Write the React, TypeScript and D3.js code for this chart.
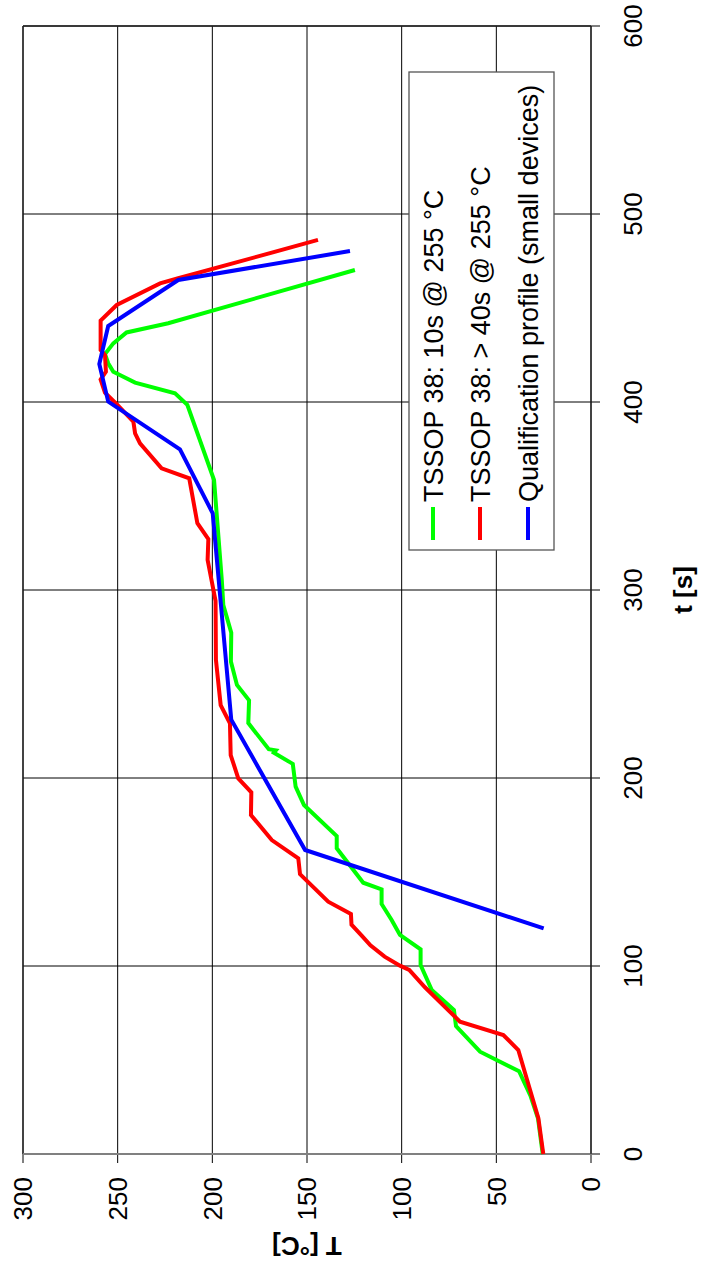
import React from "react";
import * as d3 from "d3";

const tTicks = [0, 100, 200, 300, 400, 500, 600];
const tempTicks = [0, 50, 100, 150, 200, 250, 300];

const seriesNames = [
  "TSSOP 38: 10s @ 255 °C",
  "TSSOP 38: > 40s @ 255 °C",
  "Qualification profile (small devices)",
];
const seriesColors = ["#00ff00", "#ff0000", "#0000ff"];

const greenTime = [0, 19, 31, 44, 54.4, 68, 76.6, 87.2, 100.5, 108.9, 116.5, 124.5, 133, 140.8, 144.3, 162.6, 169.1, 185.6, 195.4, 207.5, 213.5, 214.7, 215.3, 229.2, 241.3, 249.5, 262, 277.3, 292, 305.3, 358.5, 398.5, 404.6, 410.3, 416.1, 420.6, 425.5, 431.2, 437, 441.9, 470.2];
const greenTemp = [25.5, 28, 32, 38, 58.6, 71.3, 72.4, 84.1, 90, 90, 100.9, 105.3, 110.6, 110.6, 120.3, 134.3, 134.3, 151.6, 156, 157.5, 167.5, 166.5, 170.2, 181, 180.6, 187, 190.2, 190, 194.2, 195, 199.1, 213.2, 219.7, 240.8, 252.3, 255, 256.7, 252.3, 245.3, 223.3, 124.7];

const redTime = [0, 19, 55.3, 63.3, 70.4, 88.7, 97.9, 100.2, 105, 111, 116, 122, 127.7, 134.2, 148.9, 157.3, 167, 180.3, 192.4, 199.8, 212.2, 229.1, 238.8, 262.8, 294.2, 316, 327.1, 335.5, 359.4, 364.7, 378, 383.3, 389.5, 398.9, 405, 412, 416.1, 425, 427.7, 443.3, 451.6, 463.1, 465.8, 486.2];
const redTemp = [25.2, 27.8, 38.4, 46.3, 69.2, 87.7, 96, 100.9, 109, 116.5, 121, 126.5, 126.8, 138.8, 153.7, 154.6, 168.6, 179.6, 179.4, 186.3, 190.3, 190.7, 195.6, 198.1, 198.3, 202.5, 202.1, 207.9, 212.2, 226.8, 238.2, 240.8, 241.7, 250.5, 256.7, 259, 256.2, 256.7, 259, 259, 250.5, 227.6, 218, 144.2];

const blueTime = [120, 161.7, 231, 340.8, 374.8, 400.2, 420.2, 440.4, 464.9, 480.3];
const blueTemp = [25, 151, 190, 199.8, 217.1, 255, 259.7, 255, 218, 127.3];

const W = 701;
const H = 1278;
const FONT = "'Liberation Sans', Arial, Helvetica, sans-serif";

export default function App() {
  // Landscape coordinate system (H wide, W tall), rotated -90deg onto the page.
  const x = d3.scaleLinear().domain([0, 600]).range([124, 1252]);
  const y = d3.scaleLinear().domain([0, 300]).range([591, 23]);

  const line = d3
    .line<[number, number]>()
    .x((d) => x(d[0]))
    .y((d) => y(d[1]));

  const series = [
    greenTime.map((t, i) => [t, greenTemp[i]] as [number, number]),
    redTime.map((t, i) => [t, redTemp[i]] as [number, number]),
    blueTime.map((t, i) => [t, blueTemp[i]] as [number, number]),
  ];

  const x0 = x(0);
  const x1 = x(600);
  const y0 = y(0);
  const y1 = y(300);

  const legX = 728;
  const legY = 409;
  const legW = 478;
  const legH = 145;
  const legRows = [433, 480, 528];

  return (
    <svg
      width={W}
      height={H}
      style={{ position: "absolute", left: 0, top: 0, background: "#fff" }}
      fontFamily={FONT}
    >
      <rect x={0} y={0} width={W} height={H} fill="#fff" />
      <g transform={`translate(0,${H}) rotate(-90)`}>
        {/* vertical gridlines (time) */}
        {tTicks.map((t) => (
          <line key={"gt" + t} x1={x(t)} x2={x(t)} y1={y1} y2={y0 + 9} stroke="#000" strokeWidth={1} />
        ))}
        {/* horizontal gridlines (temperature) */}
        {tempTicks.map((v) => (
          <line key={"gv" + v} x1={x0 - 9} x2={x1} y1={y(v)} y2={y(v)} stroke="#000" strokeWidth={1} />
        ))}
        {/* border top/right */}
        <line x1={x0} x2={x1} y1={y1} y2={y1} stroke="#222" strokeWidth={1.3} />
        <line x1={x1} x2={x1} y1={y1} y2={y0} stroke="#222" strokeWidth={1.3} />
        {/* axis lines */}
        <line x1={x0} x2={x0} y1={y1} y2={y0 + 9} stroke="#808080" strokeWidth={2} />
        <line x1={x0} x2={x1} y1={y0} y2={y0} stroke="#222" strokeWidth={1.3} />

        {/* series */}
        {series.map((s, i) => (
          <path key={"s" + i} d={line(s) || ""} fill="none" stroke={seriesColors[i]} strokeWidth={4} strokeLinejoin="miter" />
        ))}

        {/* time tick labels */}
        {tTicks.map((t) => (
          <text key={"lt" + t} x={x(t)} y={642} textAnchor="middle" fontSize={26}>
            {t}
          </text>
        ))}
        {/* temperature tick labels */}
        {tempTicks.map((v) => (
          <text key={"lv" + v} x={101} y={y(v) + 9.3} textAnchor="end" fontSize={26}>
            {v}
          </text>
        ))}

        {/* axis titles */}
        <text x={(x0 + x1) / 2} y={692} textAnchor="middle" fontSize={26} fontWeight="bold">
          t [s]
        </text>
        <text
          transform={`translate(41,${(y0 + y1) / 2}) rotate(-90)`}
          textAnchor="middle"
          fontSize={26}
          fontWeight="bold"
        >
          T [°C]
        </text>

        {/* legend */}
        <rect x={legX} y={legY} width={legW} height={legH} fill="#fff" stroke="#555" strokeWidth={1.3} />
        {seriesNames.map((name, i) => (
          <g key={"lg" + i}>
            <line x1={738} x2={771} y1={legRows[i]} y2={legRows[i]} stroke={seriesColors[i]} strokeWidth={4} />
            <text x={776} y={legRows[i] + 9.5} fontSize={27}>
              {name}
            </text>
          </g>
        ))}
      </g>
    </svg>
  );
}
